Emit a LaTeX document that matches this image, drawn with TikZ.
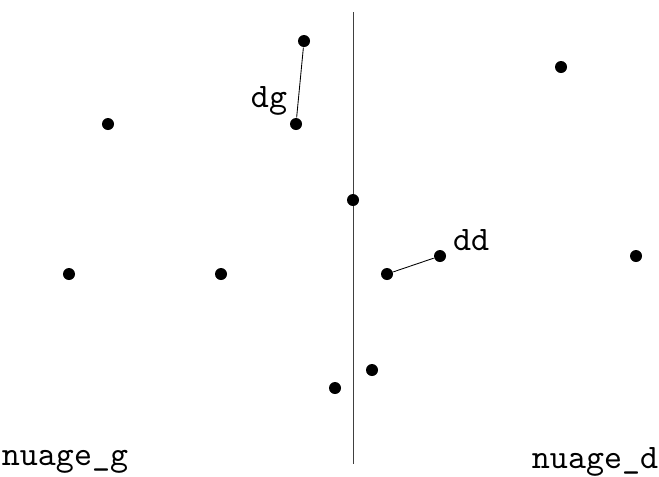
\documentclass[tikz,border=0pt]{standalone}
\begin{document}
\begin{tikzpicture}[x=0.2915pt,y=-0.2915pt,
  pt/.style={circle,fill=black,inner sep=0pt,minimum size=3.5pt},
  ln/.style={line width=0.25pt},
  lbl/.style={font=\ttfamily,inner sep=0pt}]
\useasboundingbox (0,0) rectangle (659,476);
\coordinate (top) at (353,12);
\coordinate (bot) at (353,464);
\draw[ln,black!75] (top) -- (bot);
\node[pt] (a) at (304,41) {};
\node[pt] (b) at (296,124) {};
\node[pt] (c) at (108,124) {};
\node[pt] (d) at (561,67) {};
\node[pt] (e) at (353,200) {};
\node[pt] (f) at (440,256) {};
\node[pt] (g) at (387,274) {};
\node[pt] (h) at (636,256) {};
\node[pt] (i) at (69,274) {};
\node[pt] (j) at (221,274) {};
\node[pt] (k) at (372,370) {};
\node[pt] (l) at (335,388) {};
\draw[ln] (a) -- (b);
\draw[ln] (g) -- (f);
\node[lbl] (dg) at (269,101) {dg};
\node[lbl] (dd) at (471,240) {dd};
\node[lbl] (ng) at (65,462) {nuage\_g};
\node[lbl] (nd) at (595,462) {nuage\_d};
\end{tikzpicture}
\end{document}
